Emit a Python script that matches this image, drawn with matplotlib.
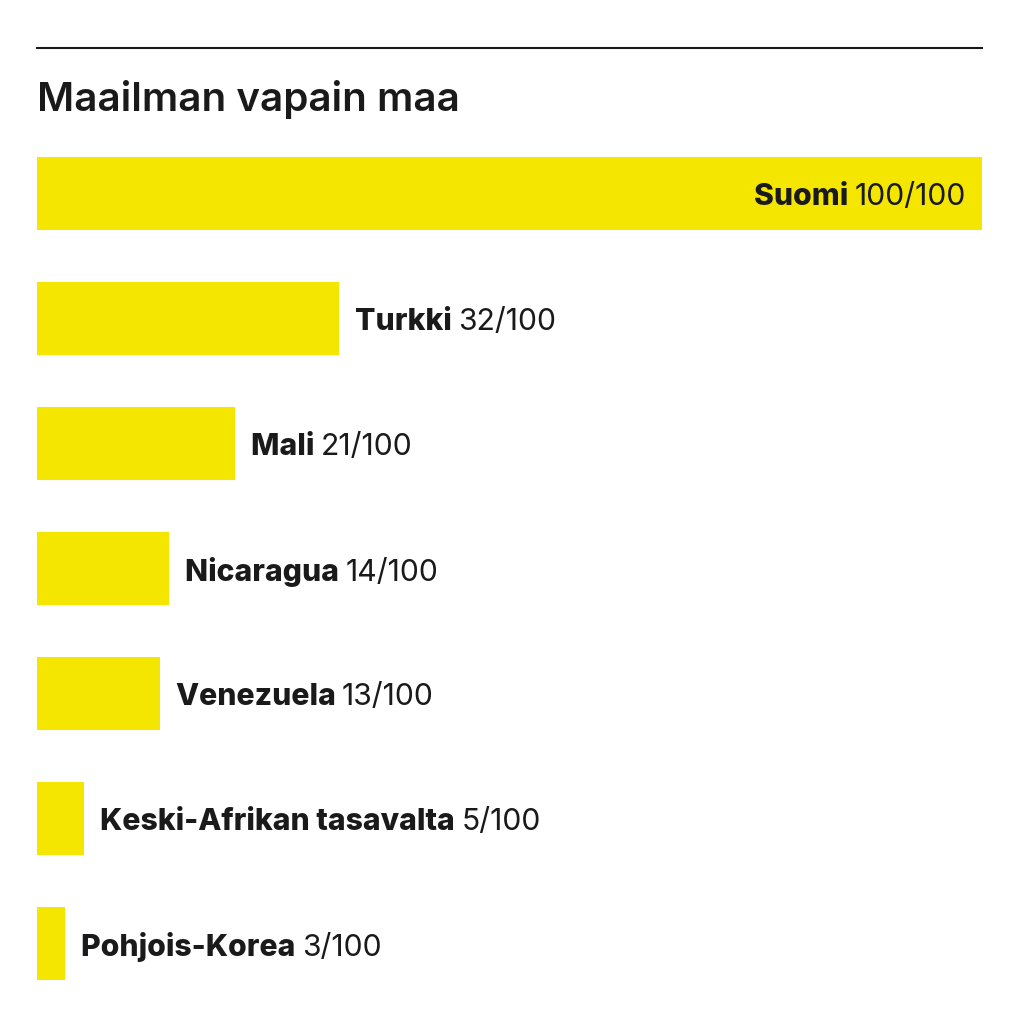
import matplotlib.pyplot as plt
from matplotlib.lines import Line2D

# Data
countries = ['Suomi', 'Turkki', 'Mali', 'Nicaragua', 'Venezuela',
             'Keski-Afrikan tasavalta', 'Pohjois-Korea']
scores = [100, 32, 21, 14, 13, 5, 3]
title = 'Maailman vapain maa'

bar_color = '#F5E600'
text_color = '#1a1a1a'
plt.rcParams['font.family'] = ['Inter', 'DejaVu Sans']

fig = plt.figure(figsize=(10.24, 10.24), dpi=100)
W = H = 1024.0

# axes placed in pixel terms: bars from x=37 to 982, y=157 to 980
ax = fig.add_axes([37 / W, (H - 980) / H, 945 / W, (980 - 157) / H])
bar_h = 0.584
pos = list(range(len(countries)))
ax.barh(pos, scores, height=bar_h, color=bar_color, edgecolor='none')
ax.set_xlim(0, 100)
ax.set_ylim(len(countries) - 1 + bar_h / 2, -bar_h / 2)
ax.axis('off')

fs = 21.7
for i, (name, val) in enumerate(zip(countries, scores)):
    score = f'{val}/100'
    if val >= 90:
        # label inside the bar, right aligned
        t = ax.annotate(score, xy=(val, i), xytext=(-11.5, -2.2), textcoords='offset points',
                        ha='right', va='center', fontsize=fs, color=text_color)
        ax.annotate(name + ' ', xy=(0, 0), xycoords=t, ha='right', va='bottom',
                    fontsize=fs, fontweight='heavy', color=text_color)
    else:
        t = ax.annotate(name + ' ', xy=(val, i), xytext=(11.3, -2.2), textcoords='offset points',
                        ha='left', va='center', fontsize=fs, fontweight='heavy', color=text_color)
        ax.annotate(score, xy=(1, 0), xycoords=t, ha='left', va='bottom',
                    fontsize=fs, color=text_color)

# top rule and title
fig.add_artist(Line2D([37 / W, 982 / W], [(H - 48) / H, (H - 48) / H],
                      color=text_color, linewidth=1.5))
fig.text(37 / W, (H - 111) / H, title, fontsize=29, fontweight='semibold',
         color=text_color, ha='left', va='baseline')

fig.savefig('out.png', dpi=100, facecolor='white')
